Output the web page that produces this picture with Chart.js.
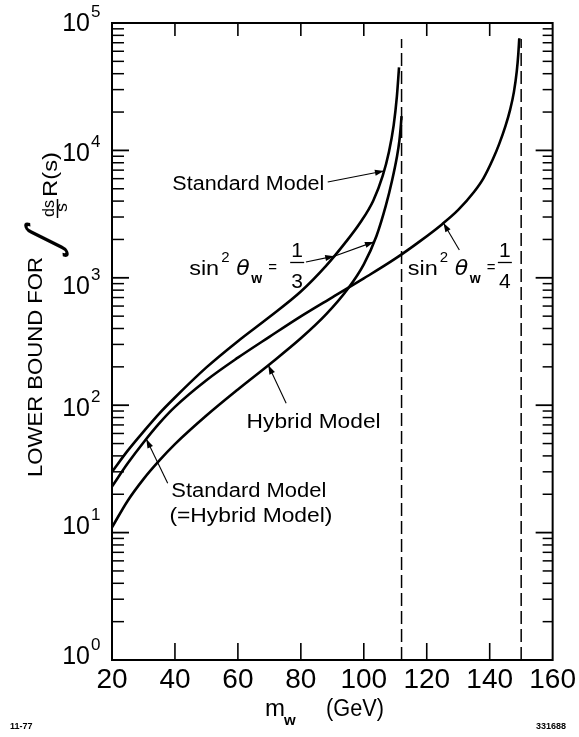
<!DOCTYPE html>
<html><head><meta charset="utf-8">
<script src="https://cdn.jsdelivr.net/npm/chart.js@4"></script>
<style>html,body{margin:0;padding:0;background:#fff}canvas{display:block}</style>
</head><body>
<canvas id="c" width="579" height="737"></canvas>
<script>
// ---- tick values ----
const xTicks = [20, 40, 60, 80, 100, 120, 140, 160];
const yExponents = [0, 1, 2, 3, 4, 5];

// ---- curves (m_W in GeV -> lower bound) ----
// Standard Model, sin^2 theta_W = 1/3
const stdX = [20, 25, 30, 35, 40, 50, 60, 70, 80, 88, 94, 99, 103, 106, 108, 109.5, 110.5, 111.2];
const stdY = [30, 44, 62, 86, 115, 198, 318, 492, 780, 1240, 1870, 2740, 4030, 6310, 9770, 15800, 26300, 44800];
// sin^2 theta_W = 1/4 (Standard Model = Hybrid Model)
const quarterX = [20, 25, 30, 35, 40, 50, 60, 70, 80, 90, 100, 110, 118, 125, 130, 135, 138, 141, 143, 145, 146.5, 147.7, 148.6, 149.1, 149.4];
const quarterY = [23, 35, 51, 72, 97, 157, 236, 344, 498, 703, 989, 1413, 1950, 2650, 3410, 4710, 6030, 8510, 11200, 15500, 20900, 28800, 41700, 57500, 75900];
// Hybrid Model, sin^2 theta_W = 1/3
const hybX = [20, 25, 30, 35, 40, 50, 60, 70, 80, 88, 95, 100, 104, 107, 109, 110.5, 111.3, 111.8, 112];
const hybY = [11, 17.8, 26.3, 36.7, 49.5, 83, 133, 209, 335, 516, 824, 1276, 2118, 3681, 5834, 8831, 11860, 16000, 18600];
// vertical asymptotes (dashed)
const asymptoteX = [112, 150];
const asymptoteBottom = 1;
const asymptoteTop = 75000;

// ---- annotations (data coordinates) ----
const textLabels = [
  {text: 'Standard Model', x: 39.18, y: 4890, width: 152},
  {text: 'Hybrid Model', x: 62.76, y: 66.2, width: 134},
  {text: 'Standard Model', x: 38.86, y: 19.0, width: 155},
  {text: '(=Hybrid Model)', x: 38.24, y: 12.1, width: 163}
];
const sinLabels = [
  {x: 44.52, y: 1052, num: '1', den: '3', fc: 108},
  {x: 114.0, y: 1052, num: '1', den: '4', fc: 97}
];
const arrows = [
  [[88.54, 5650], [106.4, 6890]],
  [[81.62, 1331], [90.6, 1479]],
  [[90.6, 1479], [103.2, 1914]],
  [[130.35, 1652], [125.3, 2692]],
  [[75.33, 103.5], [69.67, 206]],
  [[37.70, 24.4], [30.9, 54.2]]
];
const yLabelDy = [-5, -8, 2, 7, 2, -1];

const FONT = "'Liberation Sans', 'DejaVu Sans', sans-serif";
const pts = (xs, ys) => xs.map((x, i) => ({x: x, y: ys[i]}));
const curve = {borderColor: '#000', borderWidth: 2.6, pointRadius: 0, fill: false, cubicInterpolationMode: 'monotone'};

function fitText(ctx, text, x, y, font, width) {
  ctx.save();
  ctx.font = font;
  const w = ctx.measureText(text).width;
  ctx.translate(x, y);
  if (width) ctx.scale(width / w, 1);
  ctx.fillText(text, 0, 0);
  ctx.restore();
}
function arrowHead(ctx, x1, y1, x2, y2) {
  const a = Math.atan2(y2 - y1, x2 - x1), L = 9, W = 3;
  ctx.beginPath();
  ctx.moveTo(x2, y2);
  ctx.lineTo(x2 - L * Math.cos(a) + W * Math.sin(a), y2 - L * Math.sin(a) - W * Math.cos(a));
  ctx.lineTo(x2 - L * Math.cos(a) - W * Math.sin(a), y2 - L * Math.sin(a) + W * Math.cos(a));
  ctx.closePath();
  ctx.fill();
}

const decor = {
  id: 'decor',
  afterDraw(chart) {
    const ctx = chart.ctx, xs = chart.scales.x, ys = chart.scales.y, a = chart.chartArea;
    const X = v => xs.getPixelForValue(v), Y = v => ys.getPixelForValue(v);
    ctx.save();
    ctx.fillStyle = '#000'; ctx.strokeStyle = '#000';
    // frame
    ctx.lineWidth = 2;
    ctx.strokeRect(a.left, a.top, a.right - a.left, a.bottom - a.top);
    // x ticks (inside)
    ctx.lineWidth = 1.6;
    xTicks.forEach(v => {
      if (v === xs.min || v === xs.max) return;
      const px = X(v);
      ctx.beginPath(); ctx.moveTo(px, a.bottom); ctx.lineTo(px, a.bottom - 17); ctx.stroke();
      ctx.beginPath(); ctx.moveTo(px, a.top); ctx.lineTo(px, a.top + 13); ctx.stroke();
    });
    // y ticks (inside, both sides)
    for (let e = 0; e < 5; e++) {
      for (let m = 1; m <= 9; m++) {
        if (m === 1 && e === 0) continue;
        const py = Y(m * Math.pow(10, e));
        const major = m === 1;
        ctx.lineWidth = major ? 1.8 : 1.5;
        ctx.beginPath(); ctx.moveTo(a.left, py); ctx.lineTo(a.left + (major ? 17 : 12), py); ctx.stroke();
        ctx.beginPath(); ctx.moveTo(a.right, py); ctx.lineTo(a.right - (major ? 17 : 10), py); ctx.stroke();
      }
    }
    // y tick labels 10^n
    yExponents.forEach((e, i) => {
      const c = Y(Math.pow(10, e)) + yLabelDy[i];
      ctx.font = '25px ' + FONT; ctx.textAlign = 'right'; ctx.textBaseline = 'alphabetic';
      ctx.fillText('10', 90, c + 9);
      ctx.font = '17px ' + FONT; ctx.textAlign = 'left';
      ctx.fillText(String(e), 91, c - 5);
    });
    // x axis title
    ctx.textAlign = 'left'; ctx.textBaseline = 'alphabetic';
    ctx.font = '24px ' + FONT; ctx.fillText('m', 265, 716);
    ctx.font = 'bold 15px ' + FONT; ctx.fillText('w', 284, 725);
    fitText(ctx, '(GeV)', 326, 716, '23px ' + FONT, 58);
    // corner marks
    ctx.font = 'bold 9px ' + FONT; ctx.fillText('11-77', 10, 729);
    ctx.textAlign = 'right'; ctx.fillText('331688', 566, 729);
    ctx.textAlign = 'left';
    // y title (rotated)
    ctx.save();
    ctx.rotate(-Math.PI / 2);
    fitText(ctx, 'LOWER BOUND FOR', -477, 42, '21px ' + FONT, 220);
    ctx.save();
    ctx.translate(-240, 47); ctx.transform(1, 0, -0.45, 1, 0, 0);
    ctx.font = '46px "DejaVu Sans"'; ctx.textAlign = 'center'; ctx.textBaseline = 'middle';
    ctx.fillText('\u222B', 0, 0);
    ctx.restore();
    ctx.textAlign = 'left'; ctx.textBaseline = 'alphabetic';
    fitText(ctx, 'ds', -217, 54, '17px ' + FONT, 17);
    ctx.lineWidth = 1.5;
    ctx.beginPath(); ctx.moveTo(-218, 57.5); ctx.lineTo(-199, 57.5); ctx.stroke();
    fitText(ctx, 's', -212, 67, '17px ' + FONT, 9);
    fitText(ctx, 'R(s)', -197, 57, '20px ' + FONT, 45);
    ctx.restore();
    // curve labels
    textLabels.forEach(t => fitText(ctx, t.text, X(t.x), Y(t.y), '20px ' + FONT, t.width));
    sinLabels.forEach(s => {
      const x0 = X(s.x), b = Y(s.y);
      fitText(ctx, 'sin', x0, b, '20px ' + FONT, 30);
      ctx.font = '15px ' + FONT; ctx.fillText('2', x0 + 32, b - 13);
      ctx.font = 'italic 22px "DejaVu Sans"'; ctx.fillText('\u03B8', x0 + 47, b);
      ctx.font = 'bold 14px ' + FONT; ctx.fillText('w', x0 + 62, b + 8);
      ctx.font = '15px ' + FONT; ctx.fillText('=', x0 + 79, b - 3);
      ctx.font = '21px ' + FONT; ctx.textAlign = 'center';
      ctx.fillText(s.num, x0 + s.fc, b - 18);
      ctx.fillText(s.den, x0 + s.fc, b + 13);
      ctx.textAlign = 'left';
      ctx.lineWidth = 1.3;
      ctx.beginPath(); ctx.moveTo(x0 + s.fc - 7, b - 12.5); ctx.lineTo(x0 + s.fc + 7, b - 12.5); ctx.stroke();
    });
    // arrows
    ctx.lineWidth = 1.1;
    arrows.forEach(p => {
      const x1 = X(p[0][0]), y1 = Y(p[0][1]), x2 = X(p[1][0]), y2 = Y(p[1][1]);
      ctx.beginPath(); ctx.moveTo(x1, y1); ctx.lineTo(x2, y2); ctx.stroke();
      arrowHead(ctx, x1, y1, x2, y2);
    });
    ctx.restore();
  }
};

new Chart(document.getElementById('c'), {
  type: 'line',
  data: {
    datasets: [
      Object.assign({label: 'Standard Model (sin\u00B2\u03B8w = 1/3)', data: pts(stdX, stdY)}, curve),
      Object.assign({label: 'sin\u00B2\u03B8w = 1/4', data: pts(quarterX, quarterY)}, curve),
      Object.assign({label: 'Hybrid Model (sin\u00B2\u03B8w = 1/3)', data: pts(hybX, hybY)}, curve)
    ].concat(asymptoteX.map(x => ({
      label: 'asymptote', data: [{x: x, y: asymptoteBottom}, {x: x, y: asymptoteTop}],
      borderColor: '#000', borderWidth: 1.5, borderDash: [13, 5], pointRadius: 0, fill: false
    })))
  },
  options: {
    responsive: false, animation: false, devicePixelRatio: 1,
    layout: {padding: {left: 0, right: 22, top: 23, bottom: 0}},
    plugins: {legend: {display: false}, tooltip: {enabled: false}},
    scales: {
      x: {
        type: 'linear', min: 20, max: 160,
        afterFit: s => { s.height = 77; },
        afterBuildTicks: s => { s.ticks = xTicks.map(v => ({value: v})); },
        grid: {display: false, drawTicks: false}, border: {display: false},
        ticks: {font: {family: FONT, size: 28}, color: '#000', padding: 3, maxRotation: 0, autoSkip: false}
      },
      y: {
        type: 'logarithmic', min: 1, max: 100000,
        afterFit: s => { s.width = 112; },
        afterBuildTicks: s => { s.ticks = yExponents.map(e => ({value: Math.pow(10, e)})); },
        grid: {display: false, drawTicks: false}, border: {display: false},
        ticks: {display: false}
      }
    }
  },
  plugins: [decor]
});
</script>
</body></html>
